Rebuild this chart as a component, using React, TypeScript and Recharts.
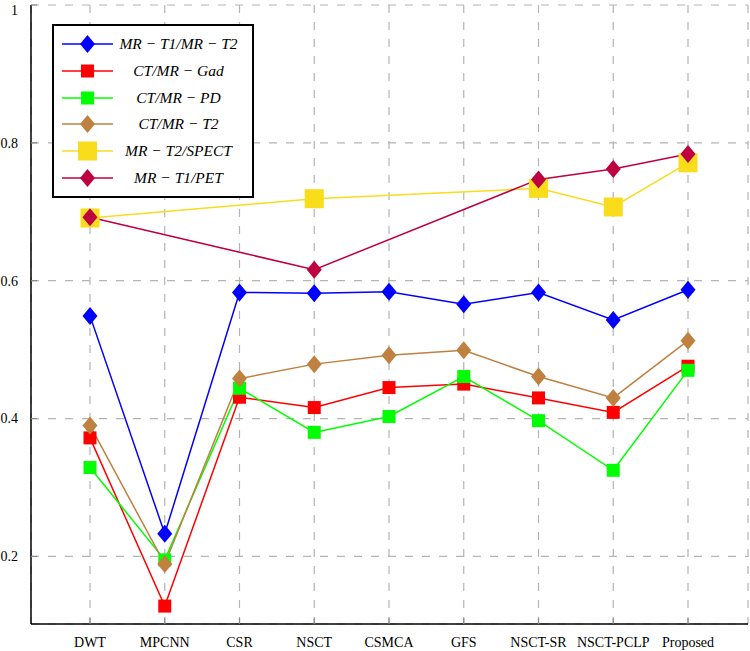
import React from 'react';
import { LineChart, Line, XAxis, YAxis, CartesianGrid, Legend } from 'recharts';

const categories = ['DWT', 'MPCNN', 'CSR', 'NSCT', 'CSMCA', 'GFS', 'NSCT-SR', 'NSCT-PCLP', 'Proposed'];
const mrT1MrT2 = [0.549, 0.233, 0.583, 0.582, 0.584, 0.566, 0.583, 0.543, 0.587];
const ctMrGad = [0.372, 0.128, 0.431, 0.416, 0.445, 0.450, 0.430, 0.409, 0.476];
const ctMrPd = [0.329, 0.195, 0.444, 0.380, 0.403, 0.461, 0.397, 0.325, 0.470];
const ctMrT2 = [0.390, 0.189, 0.458, 0.479, 0.492, 0.499, 0.461, 0.430, 0.513];
const mrT2Spect = [0.691, null, null, 0.719, null, null, 0.734, 0.707, 0.771];
const mrT1Pet = [0.692, null, null, 0.616, null, null, 0.747, 0.762, 0.784];
const yTicks = [0.2, 0.4, 0.6, 0.8, 1];
const yDomain = [0.102, 1];

type Shape = 'diamond' | 'square';
interface SeriesCfg { key: string; name: string; color: string; shape: Shape; w: number; h: number; values: (number | null)[] }

const series: SeriesCfg[] = [
  { key: 's1', name: 'MR − T1/MR − T2', color: '#0000ff', shape: 'diamond', w: 15, h: 18, values: mrT1MrT2 },
  { key: 's2', name: 'CT/MR − Gad', color: '#ff0000', shape: 'square', w: 13, h: 13, values: ctMrGad },
  { key: 's3', name: 'CT/MR − PD', color: '#00ff00', shape: 'square', w: 13, h: 13, values: ctMrPd },
  { key: 's4', name: 'CT/MR − T2', color: '#bf8040', shape: 'diamond', w: 15, h: 18, values: ctMrT2 },
  { key: 's5', name: 'MR − T2/SPECT', color: '#f9dc1c', shape: 'square', w: 19, h: 19, values: mrT2Spect },
  { key: 's6', name: 'MR − T1/PET', color: '#bf0040', shape: 'diamond', w: 15, h: 18, values: mrT1Pet },
];

const rows = categories.map((c, i) => {
  const r: Record<string, any> = { name: c };
  series.forEach((s) => { r[s.key] = s.values[i]; });
  return r;
});

const Marker = ({ cx, cy, s }: { cx: number; cy: number; s: SeriesCfg }) => {
  if (s.shape === 'diamond') {
    const hw = s.w / 2, hh = s.h / 2;
    return <polygon points={`${cx},${cy - hh} ${cx + hw},${cy} ${cx},${cy + hh} ${cx - hw},${cy}`} fill={s.color} stroke="none" />;
  }
  return <rect x={cx - s.w / 2} y={cy - s.h / 2} width={s.w} height={s.h} fill={s.color} stroke="none" />;
};

const makeDot = (s: SeriesCfg) => (props: any) => {
  const { cx, cy, index, value } = props;
  if (cx == null || cy == null || value == null || Number.isNaN(cy)) return <g key={`${s.key}-${index}`} />;
  return <g key={`${s.key}-${index}`}><Marker cx={cx} cy={cy} s={s} /></g>;
};

const serif = '"Liberation Serif", "DejaVu Serif", serif';
const TICK_LEN = 6;
const tickStroke = '#8a8a8a';

const BottomTick = (props: any) => {
  const { x, y, payload } = props;
  return (
    <g>
      <line x1={x} y1={y} x2={x} y2={y - TICK_LEN} stroke={tickStroke} strokeWidth={1.2} />
      <text x={x} y={y + 23} textAnchor="middle" fontFamily={serif} fontSize={14} fill="#000">{payload.value}</text>
    </g>
  );
};
const TopTick = (props: any) => {
  const { x, y } = props;
  return <line x1={x} y1={y} x2={x} y2={y + TICK_LEN} stroke={tickStroke} strokeWidth={1.2} />;
};
const LeftTick = (props: any) => {
  const { x, y, payload } = props;
  const ty = Math.max(y, 10);
  return (
    <g>
      <line x1={x} y1={y} x2={x + TICK_LEN} y2={y} stroke={tickStroke} strokeWidth={1.2} />
      <text x={x - 13} y={ty} dy="0.35em" textAnchor="end" fontFamily={serif} fontSize={14} fill="#000">{String(payload.value)}</text>
    </g>
  );
};
const RightTick = (props: any) => {
  const { x, y } = props;
  return <line x1={x} y1={y} x2={x - TICK_LEN} y2={y} stroke={tickStroke} strokeWidth={1.2} />;
};

const LegendBox = () => (
  <div style={{ boxSizing: 'border-box', width: 202, height: 174, border: '2px solid #000', background: '#fff', padding: '4.6px 0 0 8px' }}>
    {series.map((s) => (
      <div key={s.key} style={{ display: 'flex', alignItems: 'center', height: 26.8 }}>
        <svg width={51} height={22} style={{ display: 'block', flex: 'none' }}>
          <line x1={0} y1={11} x2={51} y2={11} stroke={s.color} strokeWidth={1.5} />
          <Marker cx={25.5} cy={11} s={s} />
        </svg>
        <span style={{ width: 131, textAlign: 'center', fontFamily: serif, fontStyle: 'italic', fontSize: 15.5, color: '#000', whiteSpace: 'nowrap', lineHeight: '20px' }}>{s.name}</span>
      </div>
    ))}
  </div>
);

export default function App() {
  return (
    <div style={{ position: 'absolute', left: 0, top: 0, width: 750, height: 651, background: '#fff' }}>
      <LineChart width={750} height={651} data={rows} margin={{ top: 5, right: 2, bottom: 0, left: 0 }}>
        <CartesianGrid stroke="#b4b4b4" strokeWidth={1.2} strokeDasharray="8 9" />
        <XAxis dataKey="name" interval={0} padding={{ left: 59, right: 60 }} height={27} tickSize={0} tickMargin={0} tickLine={false}
          axisLine={{ stroke: '#000', strokeWidth: 1.5 }} tick={<BottomTick />} />
        <XAxis dataKey="name" xAxisId="top" orientation="top" interval={0} padding={{ left: 59, right: 60 }} height={0} tickSize={0} tickMargin={0} tickLine={false}
          axisLine={{ stroke: '#000', strokeWidth: 1.5 }} tick={<TopTick />} />
        <YAxis domain={yDomain} ticks={yTicks} type="number" width={31} tickSize={0} tickMargin={0} tickLine={false} interval={0}
          axisLine={{ stroke: '#000', strokeWidth: 1.5 }} tick={<LeftTick />} allowDataOverflow />
        <YAxis yAxisId="right" orientation="right" domain={yDomain} ticks={yTicks} type="number" width={0} tickSize={0} tickMargin={0} tickLine={false} interval={0}
          axisLine={{ stroke: '#000', strokeWidth: 1.5 }} tick={<RightTick />} allowDataOverflow />
        {series.map((s) => (
          <Line key={s.key} type="linear" dataKey={s.key} name={s.name} stroke={s.color} strokeWidth={1.5}
            dot={makeDot(s)} activeDot={false} connectNulls isAnimationActive={false} />
        ))}
        <Legend layout="vertical" align="center" verticalAlign="middle" wrapperStyle={{ left: 52, top: 24, width: 202 }} content={() => <LegendBox />} />
      </LineChart>
    </div>
  );
}
